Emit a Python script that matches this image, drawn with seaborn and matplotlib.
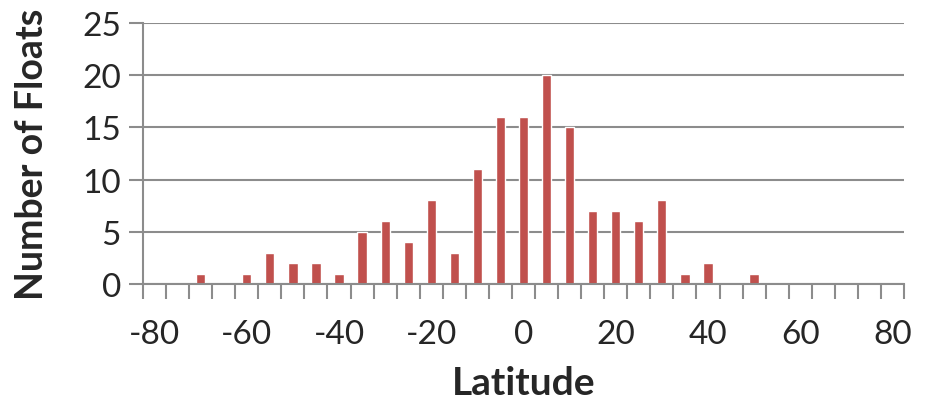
import matplotlib
matplotlib.use("Agg")
import matplotlib.pyplot as plt
import seaborn as sns
import pandas as pd
import numpy as np

# Latitude bins (5-degree steps) and float counts per bin
latitudes = list(range(-80, 85, 5))
counts = [0, 0, 1, 0, 1, 3, 2, 2, 1, 5, 6, 4, 8, 3, 11, 16, 16,
          20, 15, 7, 7, 6, 8, 1, 2, 0, 1, 0, 0, 0, 0, 0, 0]
y_ticks = [0, 5, 10, 15, 20, 25]
x_tick_labels = ["-80", "-60", "-40", "-20", "0", "20", "40", "60", "80"]

df = pd.DataFrame({"lat": [str(v) for v in latitudes], "count": counts})

sns.set_style("white")
plt.rcParams["font.family"] = ["Lato", "DejaVu Sans"]

fig = plt.figure(figsize=(9.27, 4.06), dpi=100)
ax = fig.add_axes([143 / 927, 1 - 285 / 406, (904 - 143) / 927, (285 - 24) / 406])

grid_color = "#8c8c8c"
sns.barplot(data=df, x="lat", y="count", order=[str(v) for v in latitudes],
            color="#C0504D", width=0.4, saturation=1, ax=ax, zorder=3)

n = len(latitudes)
ax.set_xlim(-0.5, n - 0.5)
ax.set_ylim(0, 25)

# Horizontal gridlines
ax.set_yticks(y_ticks)
ax.yaxis.grid(True, color=grid_color, linewidth=1.5, zorder=0)
ax.xaxis.grid(False)

# Category labels every 20 degrees, tick marks at bin boundaries
ax.set_xticks([latitudes.index(int(t)) for t in x_tick_labels])
ax.set_xticklabels(x_tick_labels)
ax.set_xticks(np.arange(-0.5, n, 1.0), minor=True)
ax.tick_params(axis="x", which="major", length=0, pad=25, labelsize=24)
ax.tick_params(axis="x", which="minor", length=11, width=1.5, color=grid_color, direction="out")
ax.tick_params(axis="y", which="major", length=10, width=1.5, color=grid_color,
               direction="out", labelsize=24, pad=6)
ax.tick_params(axis="x", which="both", bottom=True)
ax.tick_params(axis="y", which="both", left=True)

for s in ["top", "right"]:
    ax.spines[s].set_visible(False)
for s in ["left", "bottom"]:
    ax.spines[s].set_visible(True)
    ax.spines[s].set_color(grid_color)
    ax.spines[s].set_linewidth(1.5)
    ax.spines[s].set_zorder(4)

ax.set_xlabel("Latitude", fontsize=28, fontweight="bold", labelpad=12)
ax.set_ylabel("Number of Floats", fontsize=27, fontweight="bold", labelpad=24)

fig.savefig("out.png", dpi=100)
